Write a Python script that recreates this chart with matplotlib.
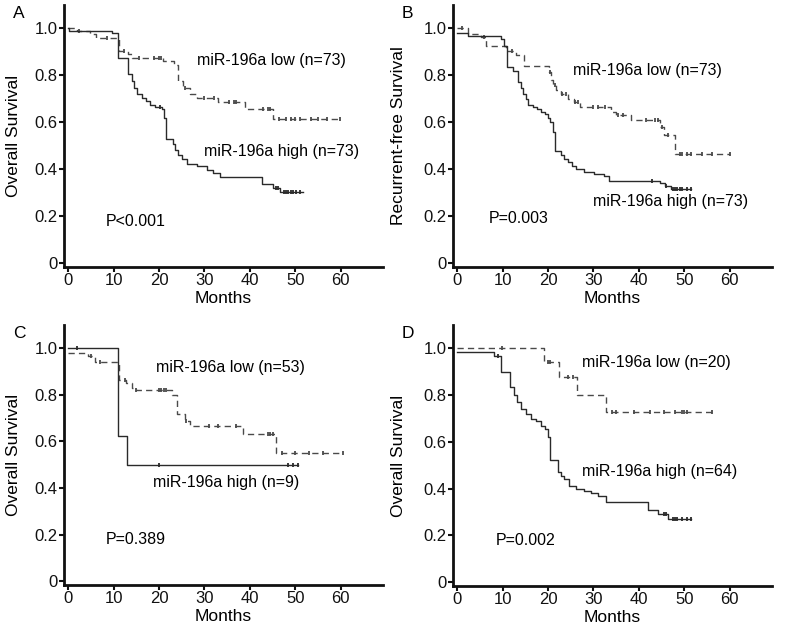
import numpy as np
import matplotlib
matplotlib.use("Agg")
import matplotlib.pyplot as plt

plt.rcParams['font.family'] = ['Liberation Sans', 'DejaVu Sans']

# ---------------- data ----------------
xticks = [0, 10, 20, 30, 40, 50, 60]
yticks = [0, 0.2, 0.4, 0.6, 0.8, 1.0]
ytick_labels = ["0", "0.2", "0.4", "0.6", "0.8", "1.0"]

# Panel A
a_high_t = [0, 0.3, 9.6, 11.0, 13.2, 14.0, 14.5, 15.2, 16.2, 17.1, 18.0, 19.1, 20.6, 21.0, 21.5, 23.1, 23.5, 24.2, 25.0, 26.1, 28.3, 30.5, 31.9, 33.4, 42.6, 45.2, 46.6]
a_high_s = [1.0, 0.99, 0.98, 0.876, 0.805, 0.776, 0.748, 0.719, 0.705, 0.691, 0.676, 0.666, 0.655, 0.62, 0.53, 0.506, 0.484, 0.463, 0.444, 0.424, 0.413, 0.399, 0.384, 0.367, 0.337, 0.32, 0.303]
a_high_end = 51.8
a_high_cens = [20.3, 45.8, 46.2, 47.5, 48.0, 48.5, 49.0, 49.5, 50.2, 51.0]
a_low_t = [0, 2.0, 4.8, 6.2, 11.2, 13.2, 14.0, 20.8, 23.3, 24.2, 25.3, 26.8, 28.3, 33.0, 38.9, 45.2]
a_low_s = [1.0, 0.99, 0.975, 0.96, 0.905, 0.89, 0.875, 0.86, 0.845, 0.776, 0.748, 0.72, 0.704, 0.686, 0.655, 0.615]
a_low_end = 59.8
a_low_cens = [2.3, 8.5, 12.3, 15.5, 19.0, 20.0, 20.5, 25.8, 30.0, 32.0, 35.5, 36.5, 37.0, 43.0, 44.0, 44.5, 46.5, 48.0, 49.0, 50.0, 51.0, 53.5, 55.0, 57.0, 59.8]

# Panel B
b_high_t = [0, 2.3, 9.7, 10.3, 11.0, 12.3, 13.4, 14.0, 14.5, 15.2, 15.6, 16.7, 17.5, 18.5, 19.3, 20.0, 20.5, 21.0, 21.6, 22.9, 23.6, 24.4, 25.2, 26.2, 28.0, 30.2, 32.4, 33.5, 44.6, 45.7, 47.1]
b_high_s = [0.98, 0.969, 0.955, 0.926, 0.834, 0.82, 0.77, 0.745, 0.72, 0.70, 0.675, 0.665, 0.655, 0.645, 0.635, 0.62, 0.60, 0.56, 0.48, 0.46, 0.445, 0.43, 0.415, 0.40, 0.39, 0.38, 0.37, 0.35, 0.34, 0.33, 0.315]
b_high_end = 51.5
b_high_cens = [43.0, 46.0, 47.5, 48.0, 48.5, 49.0, 49.5, 50.5, 51.5]
b_low_t = [0, 2.3, 5.3, 6.4, 10.8, 13.0, 14.8, 20.3, 20.7, 21.1, 21.8, 22.9, 24.4, 25.8, 27.0, 33.9, 35.0, 38.3, 44.6, 45.5, 48.0]
b_low_s = [1.0, 0.976, 0.965, 0.925, 0.905, 0.887, 0.84, 0.815, 0.78, 0.76, 0.74, 0.72, 0.70, 0.685, 0.665, 0.645, 0.63, 0.61, 0.58, 0.545, 0.465]
b_low_end = 60.0
b_low_cens = [1.0, 6.0, 12.0, 20.5, 21.5, 23.0, 24.0, 26.0, 26.5, 30.0, 31.0, 32.5, 35.5, 36.5, 41.5, 43.5, 44.2, 45.0, 46.5, 49.0, 49.5, 50.5, 51.5, 54.0, 56.0, 60.0]

# Panel C
c_high_t = [0, 11.0, 13.0]
c_high_s = [1.0, 0.624, 0.50]
c_high_end = 50.5
c_high_cens = [2.0, 20.0, 48.5, 49.5, 50.5]
c_low_t = [0, 4.4, 5.9, 11.2, 12.7, 14.0, 15.0, 22.8, 24.0, 25.7, 26.8, 38.5, 45.7]
c_low_s = [0.98, 0.965, 0.943, 0.864, 0.85, 0.83, 0.82, 0.80, 0.72, 0.69, 0.665, 0.63, 0.55]
c_low_end = 60.4
c_low_cens = [5.0, 7.0, 12.5, 15.0, 20.0, 20.5, 21.0, 21.5, 26.0, 31.0, 33.0, 37.0, 44.0, 44.5, 45.0, 47.0, 50.0, 53.0, 56.0, 60.4]

# Panel D
d_high_t = [0, 8.2, 9.7, 11.7, 12.6, 13.2, 14.1, 15.2, 16.3, 17.4, 18.5, 19.3, 20.0, 20.4, 22.2, 22.9, 23.6, 24.7, 26.2, 28.0, 29.5, 31.0, 32.8, 42.0, 44.2, 46.4]
d_high_s = [0.984, 0.967, 0.90, 0.836, 0.80, 0.77, 0.74, 0.72, 0.70, 0.69, 0.67, 0.655, 0.62, 0.523, 0.47, 0.455, 0.44, 0.41, 0.40, 0.39, 0.38, 0.37, 0.345, 0.31, 0.29, 0.27]
d_high_end = 51.5
d_high_cens = [9.0, 45.5, 46.0, 47.5, 48.0, 48.5, 49.5, 50.5, 51.5]
d_low_t = [0, 19.1, 22.5, 26.4, 32.8]
d_low_s = [1.0, 0.943, 0.876, 0.802, 0.727]
d_low_end = 56.0
d_low_cens = [9.9, 20.0, 20.5, 24.5, 25.5, 34.0, 35.0, 39.0, 42.5, 45.5, 48.0, 49.5, 50.0, 50.5, 56.0]

panels = [
    dict(letter="A", ylabel="Overall Survival",
         high=(a_high_t, a_high_s, a_high_end, a_high_cens),
         low=(a_low_t, a_low_s, a_low_end, a_low_cens),
         low_label="miR-196a low (n=73)", low_pos=(28.3, 0.862),
         high_label="miR-196a high (n=73)", high_pos=(29.9, 0.477),
         p_label="P<0.001", p_pos=(8.3, 0.178)),
    dict(letter="B", ylabel="Recurrent-free Survival",
         high=(b_high_t, b_high_s, b_high_end, b_high_cens),
         low=(b_low_t, b_low_s, b_low_end, b_low_cens),
         low_label="miR-196a low (n=73)", low_pos=(25.5, 0.82),
         high_label="miR-196a high (n=73)", high_pos=(29.9, 0.262),
         p_label="P=0.003", p_pos=(7.0, 0.19)),
    dict(letter="C", ylabel="Overall Survival",
         high=(c_high_t, c_high_s, c_high_end, c_high_cens),
         low=(c_low_t, c_low_s, c_low_end, c_low_cens),
         low_label="miR-196a low (n=53)", low_pos=(19.3, 0.918),
         high_label="miR-196a high (n=9)", high_pos=(18.6, 0.424),
         p_label="P=0.389", p_pos=(8.3, 0.18)),
    dict(letter="D", ylabel="Overall Survival",
         high=(d_high_t, d_high_s, d_high_end, d_high_cens),
         low=(d_low_t, d_low_s, d_low_end, d_low_cens),
         low_label="miR-196a low (n=20)", low_pos=(27.5, 0.94),
         high_label="miR-196a high (n=64)", high_pos=(27.5, 0.473),
         p_label="P=0.002", p_pos=(8.4, 0.18)),
]

# axes rectangles in pixels: (left, top, right, bottom)
W, H = 789, 639
rects = [(64, 5, 383, 267), (453, 5, 772, 267),
         (64, 325, 383, 585), (453, 325, 772, 586)]
letter_pos = [(13, 14), (402, 14), (13, 334), (402, 334)]
ylabel_x = [21, 406, 21, 406]

fig = plt.figure(figsize=(W / 100, H / 100), dpi=100)


def km(ax, t, s, end, cens, style, color):
    tt = list(t) + [end]
    ss = list(s) + [s[-1]]
    ax.step(tt, ss, where='post', color=color, lw=1.0, linestyle=style)
    t_arr = np.array(t)
    s_arr = np.array(s)
    cy = [s_arr[np.searchsorted(t_arr, c, side='right') - 1] for c in cens]
    ax.plot(cens, cy, linestyle='none', marker='|', color=color,
            markersize=3.0, markeredgewidth=1.3)


for p, (l, t, r, b), (lx, ly), ylx in zip(panels, rects, letter_pos, ylabel_x):
    ax = fig.add_axes([l / W, (H - b) / H, (r - l) / W, (b - t) / H])
    km(ax, *p["low"], style=(0, (4.5, 3.0)), color='#4a4a4a')
    km(ax, *p["high"], style='-', color='#2a2a2a')
    ax.set_xlim(-0.9, 69.3)
    ax.set_ylim(-0.016, 1.10)
    ax.set_xticks(xticks)
    ax.set_yticks(yticks)
    ax.set_yticklabels(ytick_labels)
    for side in ['top', 'right']:
        ax.spines[side].set_visible(False)
    for side in ['left', 'bottom']:
        ax.spines[side].set_linewidth(2.0)
        ax.spines[side].set_color('#111111')
    ax.tick_params(direction='out', length=3.5, width=1.5, labelsize=12,
                   colors='#111111', pad=1)
    ax.set_xlabel("Months", fontsize=12.5, labelpad=2)
    ax.set_ylabel(p["ylabel"], fontsize=12.5)
    ax.yaxis.set_label_coords((ylx - l) / (r - l), 0.5)
    ax.text(*p["low_pos"], p["low_label"], fontsize=11.5, va='center', ha='left')
    ax.text(*p["high_pos"], p["high_label"], fontsize=11.5, va='center', ha='left')
    ax.text(*p["p_pos"], p["p_label"], fontsize=11.5, va='center', ha='left')
    fig.text(lx / W, 1 - ly / H, p["letter"], fontsize=12.5, ha='left', va='center')

fig.savefig("out.png", dpi=100)
